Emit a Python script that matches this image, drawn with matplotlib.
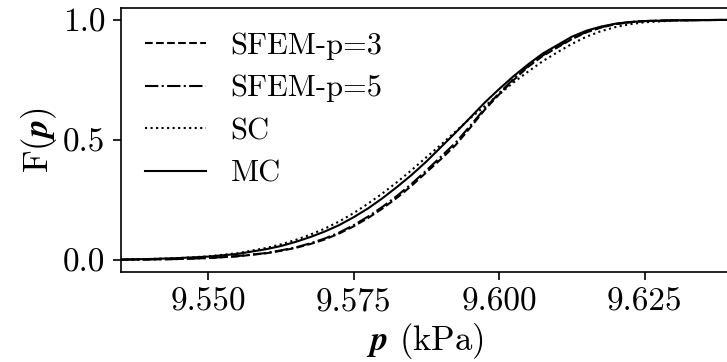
import matplotlib
matplotlib.use("Agg")
import matplotlib.pyplot as plt

plt.rcParams["font.family"] = "cmr10"
plt.rcParams["mathtext.fontset"] = "cm"
plt.rcParams["axes.formatter.use_mathtext"] = True

# pressure grid (kPa)
p = [9.535, 9.540, 9.545, 9.550, 9.555, 9.560, 9.5625, 9.565, 9.5675, 9.570,
     9.5725, 9.575, 9.5775, 9.580, 9.5825, 9.585, 9.5875, 9.590, 9.5925, 9.595,
     9.5975, 9.600, 9.6025, 9.605, 9.6075, 9.610, 9.6125, 9.615, 9.6175, 9.620,
     9.6225, 9.625, 9.630, 9.635, 9.640]

sfem_p3 = [0.001, 0.002, 0.004, 0.008, 0.015, 0.028, 0.038, 0.050, 0.066, 0.085,
           0.110, 0.140, 0.175, 0.215, 0.260, 0.310, 0.365, 0.420, 0.478, 0.550,
           0.625, 0.690, 0.750, 0.805, 0.850, 0.885, 0.920, 0.948, 0.968, 0.982,
           0.990, 0.995, 0.998, 0.999, 1.000]

sfem_p5 = [0.001, 0.002, 0.004, 0.008, 0.016, 0.029, 0.040, 0.052, 0.069, 0.089,
           0.114, 0.145, 0.181, 0.222, 0.268, 0.318, 0.373, 0.430, 0.488, 0.558,
           0.630, 0.695, 0.755, 0.808, 0.852, 0.888, 0.922, 0.950, 0.969, 0.983,
           0.991, 0.995, 0.998, 0.999, 1.000]

sc = [0.002, 0.004, 0.008, 0.015, 0.028, 0.050, 0.065, 0.083, 0.105, 0.130,
      0.160, 0.195, 0.235, 0.278, 0.325, 0.375, 0.428, 0.480, 0.535, 0.590,
      0.640, 0.690, 0.740, 0.785, 0.828, 0.865, 0.900, 0.930, 0.953, 0.970,
      0.982, 0.990, 0.997, 0.999, 1.000]

mc = [0.002, 0.004, 0.008, 0.014, 0.025, 0.045, 0.058, 0.075, 0.095, 0.118,
      0.145, 0.178, 0.215, 0.258, 0.305, 0.355, 0.410, 0.470, 0.530, 0.592,
      0.655, 0.712, 0.766, 0.815, 0.860, 0.895, 0.930, 0.955, 0.972, 0.984,
      0.991, 0.995, 0.998, 0.999, 1.000]

fig = plt.figure(figsize=(7.27, 3.62), dpi=100)
ax = fig.add_axes([0.166, 0.248, 0.837, 0.731])

ax.plot(p, sfem_p3, "k--", lw=1.5, label="SFEM-p=3")
ax.plot(p, sfem_p5, "k-.", lw=1.5, label="SFEM-p=5")
ax.plot(p, sc, "k:", lw=1.5, label="SC")
ax.plot(p, mc, "k-", lw=1.5, label="MC")

ax.set_xlim(9.535, 9.6395)
ax.set_ylim(-0.051, 1.051)
ax.set_xticks([9.550, 9.575, 9.600, 9.625])
ax.set_xticklabels(["9.550", "9.575", "9.600", "9.625"])
ax.set_yticks([0.0, 0.5, 1.0])
ax.set_yticklabels(["0.0", "0.5", "1.0"])
ax.tick_params(labelsize=24, length=6, width=1.2, pad=5)
for s in ax.spines.values():
    s.set_linewidth(1.2)

ax.set_xlabel(r"$\boldsymbol{p}$ (kPa)", fontsize=25, labelpad=3)
ax.set_ylabel(r"F($\boldsymbol{p}$)", fontsize=25, labelpad=3)
ax.legend(loc="upper left", frameon=False, fontsize=22, handlelength=2.0,
          handletextpad=0.8, labelspacing=0.5, borderaxespad=0.4)

fig.savefig("out.png", dpi=100)
